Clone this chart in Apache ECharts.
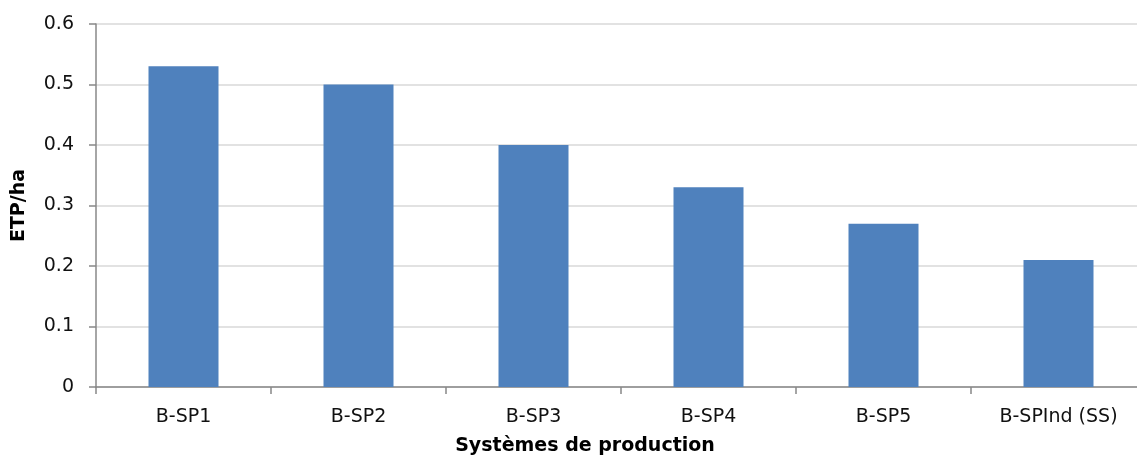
<!DOCTYPE html>
<html><head><meta charset="utf-8">
<script src="https://cdn.jsdelivr.net/npm/echarts@6/dist/echarts.min.js"></script>
<style>html,body{margin:0;padding:0;background:#fff}#c{width:1137px;height:456px}</style>
</head><body><div id="c"></div>
<script>
const categories = ['B-SP1','B-SP2','B-SP3','B-SP4','B-SP5','B-SPInd (SS)'];
const values = [0.53, 0.50, 0.40, 0.33, 0.27, 0.21];
const yTicks = ['0','0.1','0.2','0.3','0.4','0.5','0.6'];
const chart = echarts.init(document.getElementById('c'), null, {renderer:'canvas'});
const font = 'DejaVu Sans';
chart.setOption({
  animation:false,
  grid:{left:96, top:24, width:1050, height:363, containLabel:false, outerBoundsMode:'none'},
  xAxis:{
    type:'category', data:categories,
    name:'Systèmes de production', nameLocation:'middle', nameGap:50,
    nameTextStyle:{fontFamily:font, fontWeight:'bold', fontSize:19, color:'#000', padding:[0,72,0,0]},
    axisLine:{lineStyle:{color:'#888', width:1.5}},
    axisTick:{show:true, length:7, lineStyle:{color:'#888', width:1.5}},
    axisLabel:{fontFamily:font, fontSize:19, color:'#111', margin:21, interval:0}
  },
  yAxis:{
    type:'value', min:0, max:0.6, interval:0.1,
    name:'ETP/ha', nameLocation:'middle', nameGap:67, nameRotate:90,
    nameTextStyle:{fontFamily:font, fontWeight:'bold', fontSize:19, color:'#000'},
    axisLine:{show:true, lineStyle:{color:'#888', width:1.5}},
    axisTick:{show:true, length:7, lineStyle:{color:'#888', width:1.5}},
    axisLabel:{fontFamily:font, fontSize:19, color:'#111', margin:22,
      formatter:(v)=>yTicks[Math.round(v*10)]},
    splitLine:{lineStyle:{color:'#d9d9d9', width:1.5}}
  },
  series:[{type:'bar', data:values, barWidth:'40%', itemStyle:{color:'#4F81BD'}}]
});
</script></body></html>
